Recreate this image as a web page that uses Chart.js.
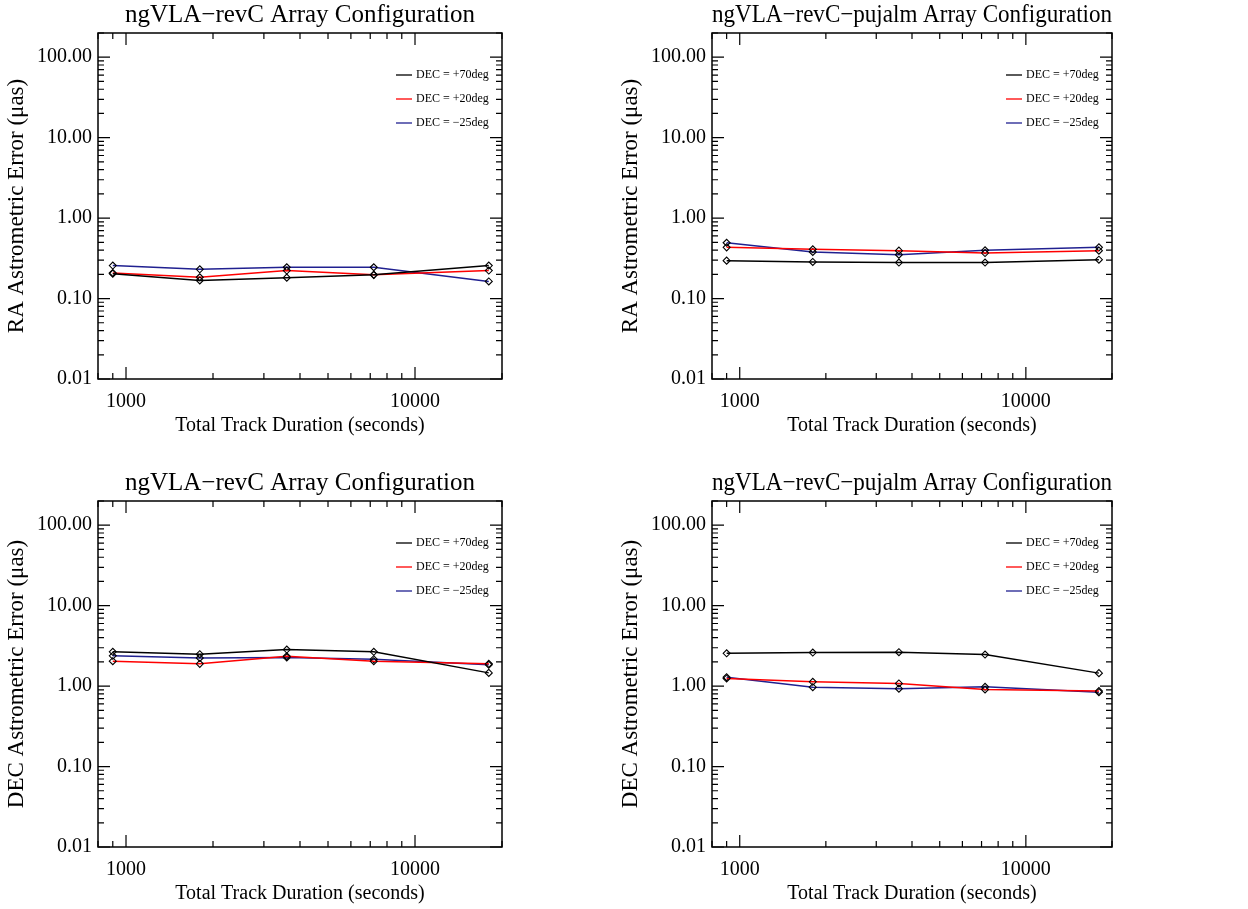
<!DOCTYPE html>
<html lang="en">
<head>
  <meta charset="UTF-8" />
  <title>ngVLA astrometric error vs track duration</title>
  <script src="https://cdn.jsdelivr.net/npm/chart.js"></script>
  <style>
    html, body { margin: 0; padding: 0; background: #fff; overflow: hidden; width: 1248px; height: 909px; }
    canvas { position: absolute; }
  </style>
</head>
<body>
  <canvas id="p1" width="614" height="450" style="left:0;top:0"></canvas>
  <canvas id="p2" width="634" height="450" style="left:614px;top:0"></canvas>
  <canvas id="p3" width="614" height="450" style="left:0;top:468px"></canvas>
  <canvas id="p4" width="634" height="450" style="left:614px;top:468px"></canvas>

  <script>
    // track durations (s)
    const durations = [900, 1800, 3600, 7200, 18000];
    const seriesLabels = ["DEC = +70deg", "DEC = +20deg", "DEC = \u221225deg"];
    const yTicks = [0.01, 0.1, 1, 10, 100];
    const xTicks = [1000, 10000];

    // RA error, revC
    const raRevC70 = [0.204, 0.168, 0.182, 0.197, 0.257];
    const raRevC20 = [0.208, 0.184, 0.223, 0.197, 0.223];
    const raRevCm25 = [0.257, 0.231, 0.245, 0.245, 0.163];
    // RA error, revC-pujalm
    const raPuj70 = [0.296, 0.285, 0.280, 0.280, 0.304];
    const raPuj20 = [0.433, 0.409, 0.394, 0.368, 0.394];
    const raPujm25 = [0.494, 0.379, 0.351, 0.398, 0.433];
    // DEC error, revC
    const decRevC70 = [2.67, 2.49, 2.85, 2.67, 1.46];
    const decRevC20 = [2.04, 1.89, 2.35, 2.04, 1.89];
    const decRevCm25 = [2.38, 2.24, 2.27, 2.16, 1.84];
    // DEC error, revC-pujalm
    const decPuj70 = [2.56, 2.61, 2.64, 2.47, 1.45];
    const decPuj20 = [1.245, 1.13, 1.08, 0.91, 0.867];
    const decPujm25 = [1.29, 0.97, 0.93, 0.98, 0.84];

    const colors = ["#000000", "#ff0000", "#202090"];
    const serif = "'Liberation Serif', 'Times New Roman', serif";

    // box with inward ticks on all four sides, like the IDL plots
    const framePlugin = {
      id: "frame",
      afterDraw(chart) {
        const { ctx, chartArea: a, scales: { x, y } } = chart;
        ctx.save();
        ctx.strokeStyle = "#000";
        ctx.lineWidth = 1.5;
        ctx.strokeRect(a.left, a.top, a.right - a.left, a.bottom - a.top);
        ctx.lineWidth = 1.2;
        ctx.beginPath();
        for (let d = -2; d <= 2; d++) {
          for (let m = 1; m <= 9; m++) {
            const v = m * Math.pow(10, d);
            if (v < y.min || v > y.max) continue;
            const py = y.getPixelForValue(v);
            const len = m === 1 ? 12 : 6;
            ctx.moveTo(a.left, py); ctx.lineTo(a.left + len, py);
            ctx.moveTo(a.right, py); ctx.lineTo(a.right - len, py);
          }
        }
        for (let d = 2; d <= 4; d++) {
          for (let m = 1; m <= 9; m++) {
            const v = m * Math.pow(10, d);
            if (v < x.min || v > x.max) continue;
            const px = x.getPixelForValue(v);
            const len = m === 1 ? 12 : 6;
            ctx.moveTo(px, a.bottom); ctx.lineTo(px, a.bottom - len);
            ctx.moveTo(px, a.top); ctx.lineTo(px, a.top + len);
          }
        }
        ctx.stroke();

        // legend inside top-right corner
        ctx.font = "12px " + serif;
        ctx.textBaseline = "middle";
        ctx.fillStyle = "#000";
        chart.data.datasets.forEach((ds, i) => {
          const ly = a.top + 42 + i * 24;
          ctx.strokeStyle = ds.borderColor;
          ctx.lineWidth = 1.3;
          ctx.beginPath();
          ctx.moveTo(a.right - 106, ly);
          ctx.lineTo(a.right - 90, ly);
          ctx.stroke();
          ctx.fillText(ds.label, a.right - 86, ly);
        });
        ctx.restore();
      }
    };

    function makePanel(id, title, yTitle, series, rightPad) {
      new Chart(document.getElementById(id), {
        type: "line",
        data: {
          datasets: series.map((vals, i) => ({
            label: seriesLabels[i],
            data: durations.map((d, j) => ({ x: d, y: vals[j] })),
            borderColor: colors[i],
            borderWidth: 1.5,
            pointStyle: "rectRot",
            pointRadius: 3.5,
            pointBorderColor: "#000",
            pointBorderWidth: 1.1,
            pointBackgroundColor: "rgba(255,255,255,0)",
            tension: 0
          }))
        },
        options: {
          responsive: false,
          animation: false,
          layout: { padding: { left: 0, right: rightPad, top: 0, bottom: 0 } },
          plugins: {
            legend: { display: false },
            tooltip: { enabled: false },
            title: {
              display: true,
              text: title,
              fullSize: false,
              color: "#000",
              font: { family: serif, size: 25, weight: "normal" },
              padding: { top: 0, bottom: 3 }
            }
          },
          scales: {
            x: {
              type: "logarithmic",
              min: 800,
              max: 20000,
              afterBuildTicks: s => { s.ticks = xTicks.map(v => ({ value: v })); },
              afterFit: s => { s.height = 71; },
              grid: { display: false, drawTicks: false },
              border: { display: false },
              ticks: {
                autoSkip: false,
                maxRotation: 0,
                padding: 11,
                color: "#000",
                font: { family: serif, size: 20 },
                callback: v => String(v)
              },
              title: {
                display: true,
                text: "Total Track Duration (seconds)",
                color: "#000",
                font: { family: serif, size: 20 },
                padding: { top: 0, bottom: 12 }
              }
            },
            y: {
              type: "logarithmic",
              min: 0.01,
              max: 200,
              afterBuildTicks: s => { s.ticks = yTicks.map(v => ({ value: v })); },
              afterFit: s => { s.width = 98; },
              grid: { display: false, drawTicks: false },
              border: { display: false },
              ticks: {
                autoSkip: false,
                padding: 6,
                color: "#000",
                font: { family: serif, size: 20 },
                callback: v => Number(v).toFixed(2)
              },
              title: {
                display: true,
                text: yTitle,
                color: "#000",
                font: { family: serif, size: 23 },
                padding: { top: 3, bottom: 0 }
              }
            }
          }
        },
        plugins: [framePlugin]
      });
    }

    makePanel("p1", "ngVLA\u2212revC Array Configuration", "RA Astrometric Error (\u03bcas)",
      [raRevC70, raRevC20, raRevCm25], 112);
    makePanel("p2", "ngVLA\u2212revC\u2212pujalm Array Configuration", "RA Astrometric Error (\u03bcas)",
      [raPuj70, raPuj20, raPujm25], 136);
    makePanel("p3", "ngVLA\u2212revC Array Configuration", "DEC Astrometric Error (\u03bcas)",
      [decRevC70, decRevC20, decRevCm25], 112);
    makePanel("p4", "ngVLA\u2212revC\u2212pujalm Array Configuration", "DEC Astrometric Error (\u03bcas)",
      [decPuj70, decPuj20, decPujm25], 136);
  </script>
</body>
</html>
